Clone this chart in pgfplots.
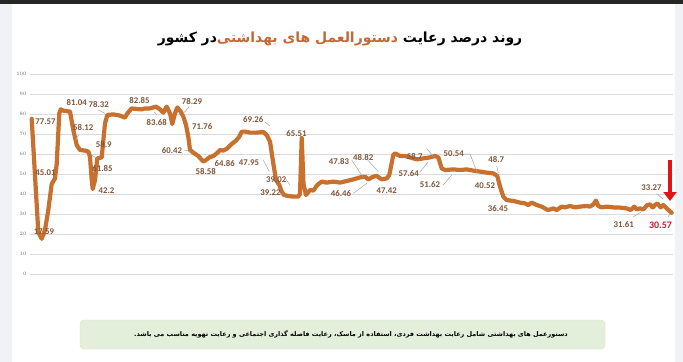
\documentclass[border=0pt]{standalone}
\usepackage{fontspec}
\usepackage{pgfplots}
\pgfplotsset{compat=1.18}
\usetikzlibrary{arrows.meta}
\setmainfont{Carlito}
\newfontfamily\arabicfont[Script=Arabic]{DejaVu Sans}
\TeXXeTstate=1
\definecolor{bggray}{RGB}{240,242,245}
\definecolor{linecol}{RGB}{200,112,46}
\definecolor{lblbrown}{RGB}{128,86,58}
\definecolor{gridgray}{RGB}{218,218,218}
\definecolor{tickgray}{RGB}{110,110,110}
\definecolor{titlered}{RGB}{196,104,52}
\definecolor{boxgreen}{RGB}{227,239,219}
\definecolor{boxedge}{RGB}{212,226,202}
\definecolor{arrowred}{RGB}{226,20,24}
\definecolor{lastred}{RGB}{205,25,45}
\tikzset{
  lbl/.style={font=\fontsize{8.8}{10}\selectfont\bfseries, text=lblbrown, inner sep=0.5bp},
  leader/.style={draw=gray!70, line width=0.5bp},
}
\begin{document}
\begin{tikzpicture}
\path[use as bounding box] (0,0) rectangle (683bp,-362bp);
\fill[bggray] (0,0) rectangle (683bp,-362bp);
\fill[white] (12bp,-4bp) rectangle (675bp,-362bp);
\fill[black!85] (0,0) rectangle (683bp,-4bp);
\node at (340bp,-39bp) {\arabicfont\bfseries\fontsize{14}{16}\selectfont
  {\beginR در کشور\endR}{\color{titlered}\beginR دستورالعمل های بهداشتی\endR}\ {\beginR روند درصد رعایت\endR}};
\begin{axis}[
  at={(30bp,-274bp)}, anchor=south west,
  scale only axis, width=643bp, height=200bp,
  xmin=30, xmax=673, ymin=0, ymax=100,
  ytick={0,10,...,100}, xtick=\empty,
  ymajorgrids, grid style={gridgray, line width=0.8bp},
  axis line style={draw=none}, tick style={draw=none},
  yticklabel style={font=\fontsize{5}{6}\selectfont, text=tickgray},
  clip=false,
]
\addplot[linecol, line width=4.2bp, line join=round, line cap=round] coordinates {
(31.7,77.6) (38.3,21) (41.7,17.6) (45,22) (48.3,32) (51.7,45) (55,47.8) (56.7,55)
(59.3,80.3) (60.7,82.3) (63.3,81.7) (70,81.2) (73.3,72) (76.7,64.5) (80,62) (85,61.7)
(88.3,61.2) (90,58.7) (91.7,47) (92.7,42.5) (95,47) (97.3,57.8) (101.7,58.3) (105,75.3)
(107.3,79.5) (113.3,79.8) (120,79.2) (125,78.2) (127.3,80.3) (131.7,82.8) (136.7,82.5)
(141.7,82.3) (145,82.8) (150,82.8) (156,83.7) (160,82.3) (163.3,80.7) (166.7,83.7)
(170,80.3) (172.3,75) (175,80.3) (177.3,83.3) (180.7,81.2) (183.3,78.7) (186,74.5)
(188.3,68.7) (190,62) (193.3,60.7) (198.3,59) (203.3,56.2) (206,57) (209.3,58.3)
(213.3,59) (216.7,60.3) (220,62) (223.3,61.7) (227.3,62.8) (231.7,65) (236,66.7)
(239.3,68.7) (241.7,71.2) (245,71.2) (250,70.7) (256.7,70.7) (263.3,71) (266.7,69.5)
(270,66.2) (273.3,55.3) (276,47) (279.3,44.5) (281.7,41.2) (284,39.5) (288.3,39)
(293.3,38.7) (298.3,38.7) (300,40) (301.7,68) (303.5,45) (306,39.5) (310,42)
(313.3,41.7) (317.3,44.5) (321.7,46.2) (326.7,45.7) (333.3,46.2) (340,45.7)
(346.7,46.5) (353.3,47.3) (360,48.3) (365,48.7) (368.3,47.3) (373.3,48.7) (376.7,49)
(381.7,47.3) (386.7,47.8) (389.3,49.5) (393.3,59.5) (395,60.3) (400,59) (405,59)
(410,58.3) (416.7,57.3) (423.3,57.8) (430,58.3) (435,59) (438.3,58.3) (441.7,52.8)
(445,52) (453.3,52.3) (460,52) (466.7,52.3) (473.3,51.7) (480,51.2) (486.7,50.7)
(493.3,50.3) (497.3,49) (500,43.7) (503.3,38.7) (506.7,37) (513.3,36.5) (520,35.7)
(525,35.3) (528.3,34.5) (531.7,35.7) (536.7,34.5) (541.7,33.7) (546.7,32.3)
(548.3,32) (553.3,32.8) (556.7,32) (561.7,33.7) (565,33.3) (570,34) (575,33.3)
(580,33.7) (586.7,34) (590,33.7) (593.3,34.8) (596,36.7) (598.3,34) (601.7,33.3)
(606.7,33.7) (613.3,33.3) (620,33.2) (626.7,32.8) (630.7,32) (634.3,33.7) (636.7,32.3)
(640,32.8) (643.3,32.3) (647.3,34.5) (650,34.8) (652.7,33.3) (655,34.5) (657.3,35.3)
(660.7,33.3) (663.3,34.5) (666.7,32.8) (671.7,30.6)
};
% leader lines
\draw[leader] (axis cs:98.3,82) -- (axis cs:105,80.3);
\draw[leader] (axis cs:79,69.5) -- (axis cs:75,67);
\draw[leader] (axis cs:91.7,59.5) -- (axis cs:96.7,57.8);
\draw[leader] (axis cs:154,81.2) -- (axis cs:156.7,79.5);
\draw[leader] (axis cs:183.3,80.3) -- (axis cs:189,83.5);
\draw[leader] (axis cs:184.3,62) -- (axis cs:190,61.2);
\draw[leader] (axis cs:265,76) -- (axis cs:270,74);
\draw[leader] (axis cs:263.3,57) -- (axis cs:269.3,51.2);
\draw[leader] (axis cs:286,47.3) -- (axis cs:290,44.5);
\draw[leader] (axis cs:351.7,57) -- (axis cs:362.7,48.7);
\draw[leader] (axis cs:367.7,57) -- (axis cs:378.3,51.2);
\draw[leader] (axis cs:353.3,40.3) -- (axis cs:366.7,45.3);
\draw[leader] (axis cs:426.7,62.8) -- (axis cs:433.3,58.7);
\draw[leader] (axis cs:420,51) -- (axis cs:428,56);
\draw[leader] (axis cs:443.3,44.5) -- (axis cs:451.7,49.5);
\draw[leader] (axis cs:464,60) -- (axis cs:470,60) -- (axis cs:477,51);
\draw[leader] (axis cs:496.7,54) -- (axis cs:498.3,50.5);
\draw[leader] (axis cs:656.7,40.3) -- (axis cs:663.3,37.3);
\draw[leader] (axis cs:633,28.5) -- (axis cs:641.7,31.2);
\draw[leader] (axis cs:668,28.5) -- (axis cs:670,30);
% data labels
\node[lbl] at (axis cs:45.5,76.2) {77.57};
\node[lbl] at (axis cs:45.5,50.7) {45.01};
\node[lbl] at (axis cs:44,21.2) {17.59};
\node[lbl] at (axis cs:76.7,85.8) {81.04};
\node[lbl] at (axis cs:98.7,84.8) {78.32};
\node[lbl] at (axis cs:83.3,73.2) {58.12};
\node[lbl] at (axis cs:103.8,64.8) {58.9};
\node[lbl] at (axis cs:102.5,52.8) {61.85};
\node[lbl] at (axis cs:106.5,41.7) {42.2};
\node[lbl] at (axis cs:139.5,86.5) {82.85};
\node[lbl] at (axis cs:156.7,75.7) {83.68};
\node[lbl] at (axis cs:192,86.2) {78.29};
\node[lbl] at (axis cs:202.3,73.7) {71.76};
\node[lbl] at (axis cs:172,61.7) {60.42};
\node[lbl] at (axis cs:205.7,51.2) {58.58};
\node[lbl] at (axis cs:224.7,55) {64.86};
\node[lbl] at (axis cs:253.3,77) {69.26};
\node[lbl] at (axis cs:249,55.7) {47.95};
\node[lbl] at (axis cs:276.3,47.3) {39.02};
\node[lbl] at (axis cs:270.5,40.7) {39.22};
\node[lbl] at (axis cs:296.5,70) {65.51};
\node[lbl] at (axis cs:339,56.2) {47.83};
\node[lbl] at (axis cs:363.2,58.2) {48.82};
\node[lbl] at (axis cs:341,40) {46.46};
\node[lbl] at (axis cs:386.7,41.5) {47.42};
\node[lbl] at (axis cs:414.7,58.7) {58.7};
\node[lbl] at (axis cs:408.7,50) {57.64};
\node[lbl] at (axis cs:430,44.5) {51.62};
\node[lbl] at (axis cs:453.8,60) {50.54};
\node[lbl] at (axis cs:496.2,57) {48.7};
\node[lbl] at (axis cs:485,44) {40.52};
\node[lbl] at (axis cs:498,32.8) {36.45};
\node[lbl] at (axis cs:651.5,43.2) {33.27};
\node[lbl] at (axis cs:623.7,24.5) {31.61};
\node[lbl, text=lastred, font=\fontsize{10}{12}\selectfont\bfseries] at (axis cs:660.5,24.5) {30.57};
\draw[arrowred, line width=4.5bp, -{Triangle[width=13bp,length=9bp]}] (axis cs:670,57) -- (axis cs:670,36.5);
\end{axis}
\draw[boxedge, fill=boxgreen, rounded corners=4bp] (80bp,-320bp) rectangle (605bp,-349bp);
\node at (351bp,-334.5bp) {\arabicfont\bfseries\fontsize{6.5}{8}\selectfont\beginR دستورعمل های بهداشتی شامل رعایت بهداشت فردی، استفاده از ماسک، رعایت فاصله گذاری اجتماعی و رعایت تهویه مناسب می باشد.\endR};
\end{tikzpicture}
\end{document}
